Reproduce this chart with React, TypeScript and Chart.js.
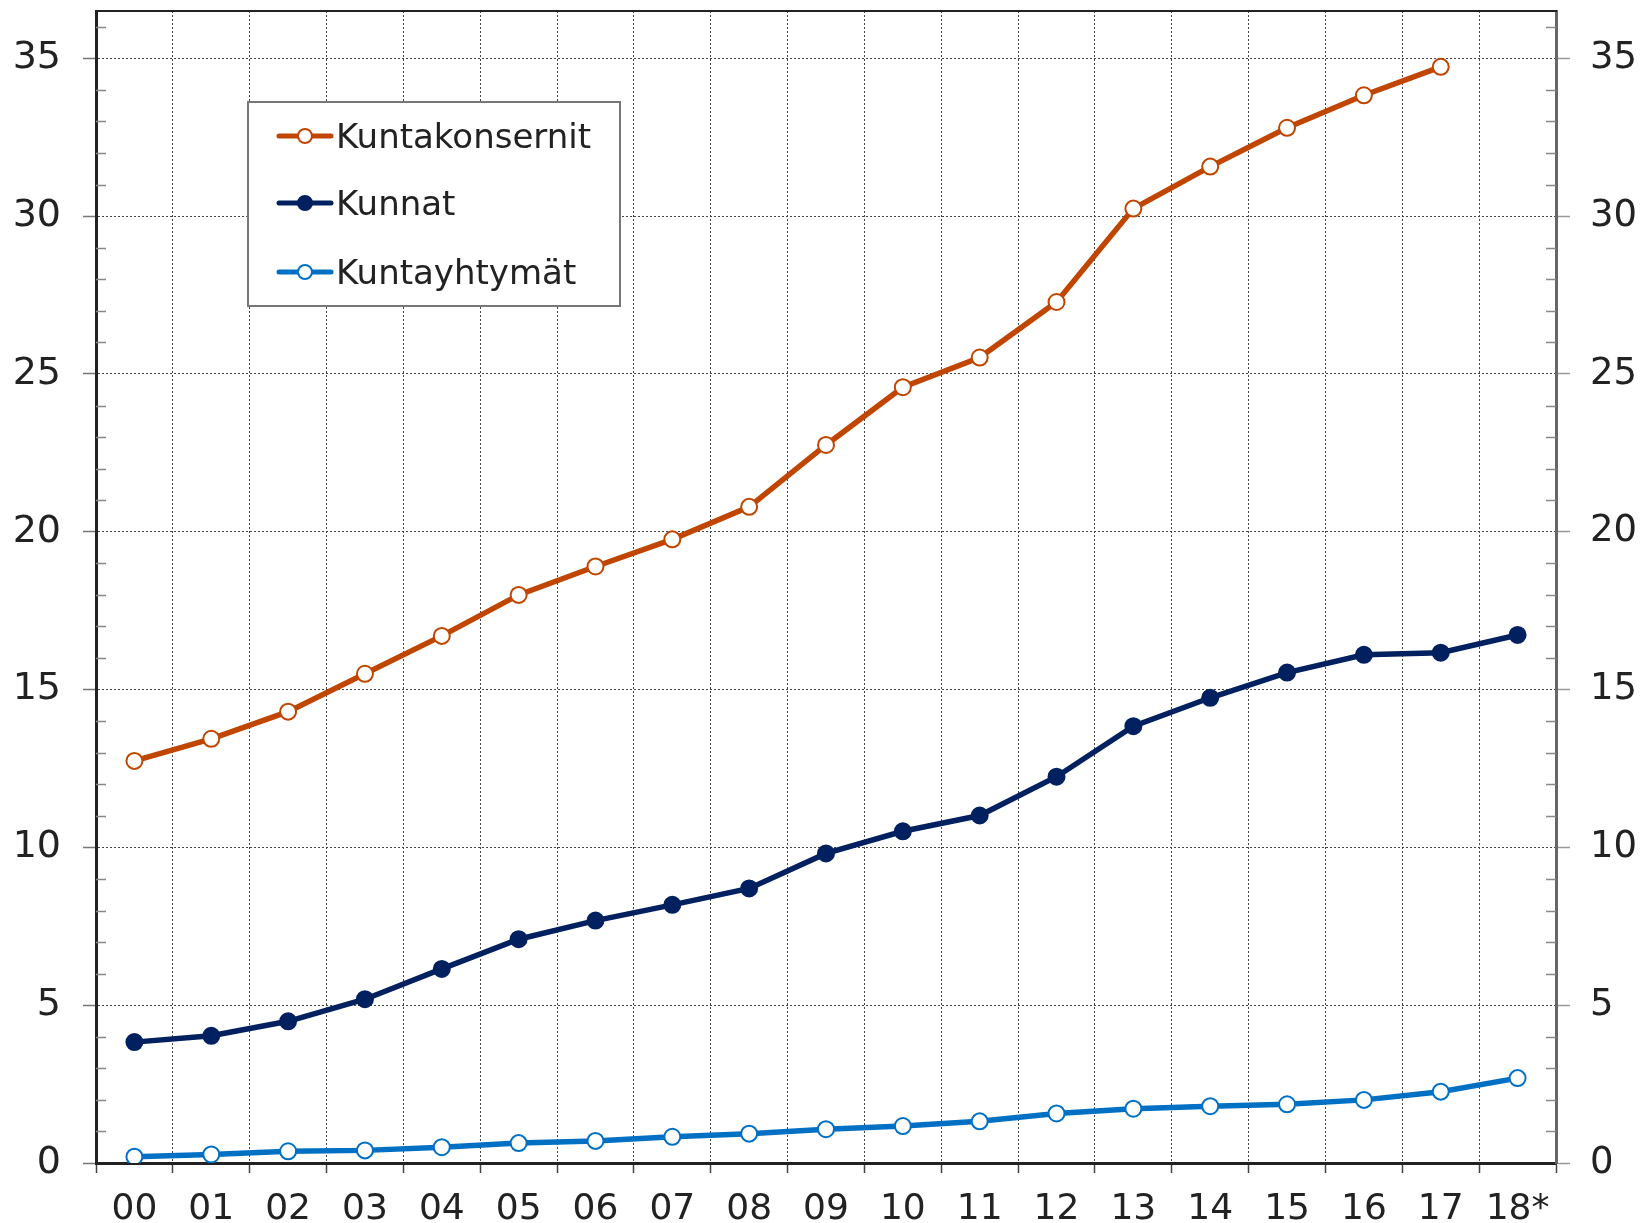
import React, { useEffect, useRef } from "react";
import { Chart, registerables } from "chart.js";

Chart.register(...registerables);

const categories = ["00", "01", "02", "03", "04", "05", "06", "07", "08", "09", "10", "11", "12", "13", "14", "15", "16", "17", "18*"];
const kuntakonsernit: (number | null)[] = [12.74, 13.44, 14.3, 15.5, 16.7, 18.0, 18.9, 19.76, 20.79, 22.75, 24.58, 25.52, 27.28, 30.24, 31.57, 32.8, 33.83, 34.73, null];
const kunnat = [3.83, 4.03, 4.49, 5.19, 6.15, 7.09, 7.68, 8.18, 8.7, 9.81, 10.51, 11.01, 12.24, 13.84, 14.74, 15.54, 16.1, 16.17, 16.73];
const kuntayhtymat = [0.2, 0.27, 0.37, 0.4, 0.5, 0.63, 0.7, 0.83, 0.93, 1.07, 1.17, 1.32, 1.57, 1.72, 1.8, 1.86, 2.0, 2.26, 2.69];
const seriesNames = ["Kuntakonsernit", "Kunnat", "Kuntayhtymät"];
const seriesColors = ["#C04600", "#00205F", "#0070C4"];
const filled = [false, true, false];

const FONT = "'DejaVu Sans', Verdana, sans-serif";

const decorPlugin = {
  id: "decor",
  afterDraw(chart: any) {
    const { ctx, chartArea } = chart;
    const { left, right, top } = chartArea;
    const y = chart.scales.y;
    ctx.save();
    // top border
    ctx.strokeStyle = "#222";
    ctx.lineWidth = 2;
    ctx.beginPath();
    ctx.moveTo(left - 1, top);
    ctx.lineTo(right + 1, top);
    ctx.stroke();
    // minor ticks
    ctx.strokeStyle = "#888";
    ctx.lineWidth = 1.5;
    for (let v = 1; v <= 36; v++) {
      if (v % 5 === 0) continue;
      const py = Math.round(y.getPixelForValue(v)) + 0.5;
      ctx.beginPath();
      ctx.moveTo(left, py);
      ctx.lineTo(left + 10, py);
      ctx.moveTo(right - 10, py);
      ctx.lineTo(right, py);
      ctx.stroke();
    }
    // legend
    const lx = 248, ly = 102, lw = 372, lh = 204;
    ctx.fillStyle = "#fff";
    ctx.fillRect(lx, ly, lw, lh);
    ctx.strokeStyle = "#777";
    ctx.lineWidth = 2;
    ctx.strokeRect(lx, ly, lw, lh);
    const rows = [136, 203, 272];
    ctx.font = "34px " + FONT;
    ctx.textBaseline = "middle";
    ctx.textAlign = "left";
    seriesNames.forEach((name, i) => {
      const ry = rows[i];
      ctx.strokeStyle = seriesColors[i];
      ctx.lineWidth = 5;
      ctx.lineCap = "round";
      ctx.beginPath();
      ctx.moveTo(279, ry);
      ctx.lineTo(331, ry);
      ctx.stroke();
      ctx.beginPath();
      ctx.arc(305, ry, 7, 0, Math.PI * 2);
      ctx.fillStyle = filled[i] ? seriesColors[i] : "#fff";
      ctx.fill();
      ctx.lineWidth = 2;
      ctx.stroke();
      ctx.fillStyle = "#222";
      ctx.fillText(name, 336, ry + 3);
    });
    ctx.restore();
  },
};

export default function App() {
  const ref = useRef<HTMLCanvasElement>(null);
  useEffect(() => {
    if (!ref.current) return;
    const datasets = [kuntakonsernit, kunnat, kuntayhtymat].map((d, i) => ({
      label: seriesNames[i],
      data: d,
      borderColor: seriesColors[i],
      backgroundColor: seriesColors[i],
      borderWidth: 5.5,
      pointRadius: 8,
      pointHoverRadius: 8,
      pointBorderWidth: 2,
      pointBorderColor: seriesColors[i],
      pointBackgroundColor: filled[i] ? seriesColors[i] : "#ffffff",
      tension: 0,
      spanGaps: false,
    }));
    const chart = new Chart(ref.current, {
      type: "line",
      data: { labels: categories, datasets },
      plugins: [decorPlugin],
      options: {
        animation: false,
        responsive: false,
        devicePixelRatio: 1,
        layout: { padding: { top: 11, left: 0, right: 0, bottom: 0 } },
        plugins: { legend: { display: false }, tooltip: { enabled: false } },
        scales: {
          x: {
            type: "category",
            offset: true,
            grid: {
              offset: true,
              color: "#444",
              lineWidth: 1,
              tickLength: 10,
              tickColor: "#444",
              tickWidth: 1.5,
            },
            border: { dash: [2, 2], color: "#222", width: 3 },
            ticks: { font: { size: 36, family: FONT }, color: "#222", padding: 15, maxRotation: 0, autoSkip: false },
            afterFit: (axis: any) => { axis.height = 60; axis.paddingLeft = 0; axis.paddingRight = 0; },
          },
          y: {
            position: "left",
            min: 0,
            max: 36.5,
            ticks: { stepSize: 5, font: { size: 38, family: FONT }, color: "#222", padding: 22 },
            afterBuildTicks: (axis: any) => { axis.ticks = axis.ticks.filter((t: any) => t.value <= 35); },
            grid: { color: "#444", lineWidth: 1, tickLength: 13, tickColor: "#777", tickWidth: 1.5 },
            border: { dash: [2, 2], color: "#222", width: 3 },
            afterFit: (axis: any) => { axis.width = 96; axis.paddingTop = 0; axis.paddingBottom = 0; },
          },
          y2: {
            position: "right",
            min: 0,
            max: 36.5,
            ticks: { stepSize: 5, font: { size: 37, family: FONT }, color: "#222", padding: 20 },
            afterBuildTicks: (axis: any) => { axis.ticks = axis.ticks.filter((t: any) => t.value <= 35); },
            grid: { drawOnChartArea: false, tickLength: 14, tickColor: "#999", tickWidth: 1.5 },
            border: { color: "#666", width: 3 },
            afterFit: (axis: any) => { axis.width = 88; axis.paddingTop = 0; axis.paddingBottom = 0; },
          },
        },
      } as any,
    });
    return () => chart.destroy();
  }, []);
  return (
    <div style={{ position: "absolute", left: 0, top: 0, width: 1644, height: 1223, background: "#fff" }}>
      <canvas ref={ref} width={1644} height={1223} style={{ display: "block", width: 1644, height: 1223 }} />
    </div>
  );
}
